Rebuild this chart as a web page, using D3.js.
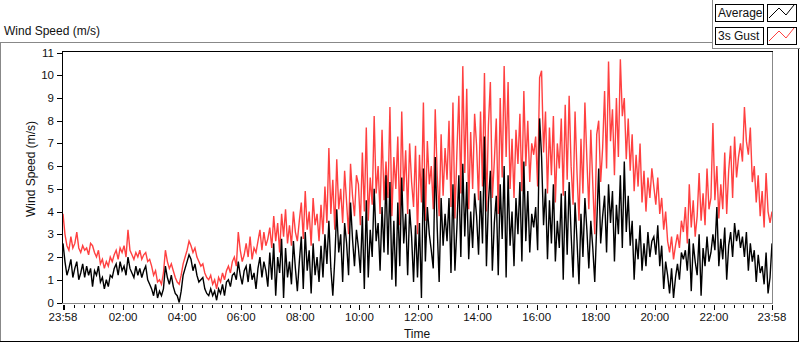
<!DOCTYPE html>
<html>
<head>
<meta charset="utf-8">
<style>
    body { margin: 0; background: #fff; }
    svg { display: block; }
    text { font-family: "Liberation Sans", Arial, sans-serif; fill: #111; }
</style>
</head>
<body>
<svg></svg>
<script src="https://d3js.org/d3.v7.min.js"></script>
<script>

    // one sample every 4 minutes, 23:58 -> 23:58 next day (15 per hour)
    let stepMinutes = 4;
    let seriesNames = ["Average", "3s Gust"];

    let gust = [
        3.9, 3.0, 2.5, 2.3, 2.9, 2.4, 2.6, 3.1, 2.4, 2.2, 2.5, 2.3, 2.4, 2.1, 2.6,
        2.5, 2.2, 2.0, 2.3, 1.7, 1.9, 1.5, 1.8, 1.6, 2.0, 1.8, 2.1, 2.3, 1.9, 2.4,
        2.2, 2.5, 2.0, 3.2, 2.3, 2.1, 1.9, 2.2, 2.0, 2.3, 1.9, 2.1, 2.2, 1.8, 1.9,
        1.6, 1.2, 1.4, 0.9, 1.0, 0.8, 1.3, 2.3, 1.8, 1.5, 1.7, 1.4, 1.1, 0.9, 0.8,
        1.2, 1.7, 2.0, 2.3, 2.7, 2.5, 2.2, 2.4, 2.0, 1.8, 1.6, 1.7, 1.3, 1.1, 1.0,
        1.2, 0.8, 1.0, 0.6, 1.1, 0.9, 1.3, 1.0, 1.4, 1.6, 1.3, 1.8, 2.0, 1.6, 3.1,
        2.3, 1.8, 2.1, 2.6, 2.0, 2.9, 1.9, 2.4, 2.2, 2.7, 3.2, 2.3, 3.1, 2.5, 2.8,
        3.3, 2.4, 3.8, 2.7, 3.5, 2.2, 3.9, 2.9, 4.1, 2.6, 3.4, 2.5, 4.0, 3.1, 2.7,
        3.6, 4.4, 2.8, 4.9, 3.2, 4.0, 2.5, 4.6, 3.4, 3.9, 2.7, 4.3, 3.0, 5.1, 3.5,
        6.8, 3.9, 5.4, 3.2, 6.3, 4.1, 5.0, 3.5, 5.8, 4.4, 3.0, 6.1, 4.7, 3.8, 5.6,
        5.2, 3.4, 6.6, 4.0, 7.7, 3.6, 5.5, 4.3, 8.2, 4.8, 6.0, 3.9, 7.6, 4.5, 6.2,
        4.6, 8.6, 3.8, 6.4, 5.0, 7.3, 3.4, 8.4, 4.9, 6.7, 3.9, 7.0, 5.3, 4.2, 6.9,
        3.0, 6.5, 4.4, 8.8, 3.6, 7.1, 5.2, 6.0, 4.1, 8.5, 5.6, 3.8, 7.4, 4.7, 6.8,
        5.4, 8.0, 4.2, 8.8, 3.7, 6.6, 9.1, 4.8, 10.4, 5.7, 9.4, 4.1, 7.5, 5.0, 8.3,
        6.9, 4.5, 8.4, 5.1, 10.1, 4.0, 7.8, 9.7, 4.6, 6.2, 8.1, 3.9, 9.0, 5.5, 10.4,
        6.4, 9.7, 5.0, 7.2, 4.6, 7.6, 6.1, 8.3, 4.9, 9.3, 6.0, 8.0, 5.3, 7.0, 6.5,
        7.3, 5.1, 9.9, 10.2, 6.6, 8.4, 4.8, 7.7, 5.6, 8.2, 4.4, 7.0, 5.9, 8.1, 4.7,
        8.7, 5.4, 9.1, 6.0, 4.3, 8.4, 5.7, 3.6, 7.2, 4.8, 8.8, 6.3, 4.1, 7.6, 5.2,
        3.0, 7.4, 8.0, 5.3, 6.8, 9.3, 5.9, 10.6, 7.1, 8.5, 5.6, 9.0, 6.4, 10.7, 8.2,
        9.0, 6.3, 8.1, 5.8, 7.4, 4.9, 6.5, 5.1, 7.0, 4.4, 5.8, 4.0, 5.5, 4.6, 5.9,
        5.1, 4.3, 5.5, 3.9, 4.6, 3.2, 4.0, 2.7, 2.2, 2.9, 1.9, 2.5, 3.0, 2.4, 3.6,
        3.1, 4.2, 2.6, 5.2, 3.3, 4.5, 2.9, 3.8, 5.7, 3.6, 4.8, 3.4, 5.9, 4.1, 4.6,
        7.9, 4.5, 6.0, 3.7, 5.2, 4.1, 6.6, 3.9, 5.8, 6.9, 4.6, 7.3, 5.5, 6.4, 7.0,
        6.2, 8.6, 7.1, 6.5, 7.7, 5.3, 6.0, 4.4, 5.6, 3.8, 4.9, 3.3, 5.7, 4.0, 3.5, 4.0
    ];

    let average = [
        2.6, 1.8, 1.2, 1.5, 1.9, 1.1, 1.5, 1.8, 1.0, 1.3, 1.7, 1.1, 1.6, 1.2, 1.5,
        0.7, 1.4, 1.2, 1.6, 0.9, 1.1, 0.6, 1.0, 0.7, 1.2, 1.1, 1.5, 1.7, 1.2, 1.8,
        1.4, 1.6, 1.2, 2.0, 1.5, 1.3, 1.1, 1.6, 1.2, 1.5, 1.1, 1.4, 1.6, 1.0, 0.8,
        0.6, 0.3, 0.8, 0.2, 0.5, 0.3, 0.6, 1.6, 1.1, 0.8, 1.2, 0.7, 0.4, 0.3, 0.0,
        0.5, 1.2, 1.5, 1.8, 2.1, 1.9, 1.4, 1.7, 1.2, 0.9, 1.0, 1.1, 0.6, 0.4, 0.3,
        0.6, 0.3, 0.5, 0.1, 0.6, 0.4, 0.8, 0.3, 0.9, 1.0, 0.7, 1.2, 1.3, 1.0, 1.8,
        1.2, 0.8, 1.4, 1.6, 0.9, 1.7, 1.0, 1.3, 0.6, 1.5, 2.0, 1.1, 1.8, 1.4, 0.7,
        2.2, 1.0, 2.6, 0.3, 2.0, 1.3, 2.8, 0.2, 2.4, 1.1, 1.8, 0.8, 2.7, 1.5, 0.5,
        1.8, 2.9, 0.6, 3.1, 1.4, 2.3, 0.4, 2.6, 1.2, 2.0, 0.9, 2.5, 1.1, 3.0, 1.7,
        3.6, 1.5, 0.3, 1.9, 4.1, 2.2, 3.0, 0.9, 3.5, 2.6, 1.2, 4.4, 2.8, 1.6, 3.2,
        2.4, 1.3, 3.8, 0.6, 4.5, 1.1, 3.2, 2.0, 5.0, 2.7, 3.5, 1.4, 4.2, 2.2, 5.6,
        2.1, 5.3, 1.0, 3.6, 0.7, 4.4, 1.6, 5.5, 2.6, 3.9, 1.2, 4.1, 2.9, 0.9, 3.4,
        1.1, 3.5, 0.2, 5.9, 1.8, 4.2, 3.0, 2.3, 1.5, 6.4, 3.3, 0.9, 4.6, 2.5, 3.9,
        2.7, 4.6, 1.3, 5.2, 1.4, 3.3, 5.6, 2.0, 6.1, 2.9, 5.3, 1.9, 4.0, 2.4, 4.8,
        3.8, 2.1, 4.9, 2.6, 7.3, 1.6, 4.4, 5.8, 1.4, 3.5, 4.7, 1.2, 5.2, 2.8, 6.0,
        1.1, 5.6, 2.5, 4.0, 1.6, 4.6, 3.0, 5.3, 1.8, 6.2, 2.7, 4.9, 2.2, 3.9, 3.3,
        4.2, 2.3, 8.1, 6.4, 3.4, 5.0, 1.9, 4.5, 2.6, 5.2, 1.8, 3.6, 2.4, 4.8, 1.0,
        4.9, 2.1, 5.3, 3.0, 1.1, 4.4, 2.7, 0.8, 3.9, 2.0, 4.6, 3.2, 1.5, 3.6, 2.4,
        0.9, 3.4, 5.9, 2.6, 3.8, 4.7, 2.2, 5.2, 3.5, 4.9, 1.8, 4.3, 3.0, 5.6, 2.4,
        6.2, 3.1, 4.7, 2.5, 3.6, 1.0, 2.8, 1.9, 3.4, 1.4, 2.6, 1.6, 3.1, 2.0, 2.7,
        2.9, 2.1, 3.4, 1.6, 2.5, 0.6, 1.8, 1.2, 0.4, 1.5, 0.2, 1.1, 1.7, 1.0, 2.2,
        1.9, 2.3, 1.4, 2.8, 0.5, 2.6, 1.8, 1.2, 3.0, 0.3, 2.4, 1.6, 2.9, 1.8, 2.2,
        3.0, 2.3, 4.2, 1.6, 2.8, 1.9, 3.3, 1.0, 2.5, 3.1, 2.0, 3.5, 2.7, 3.2, 2.4,
        2.9, 2.0, 3.1, 1.4, 2.6, 1.8, 2.3, 0.9, 2.1, 1.3, 1.6, 0.8, 2.2, 0.4, 1.1, 2.6
    ];

    let yTicks = [0, 1, 2, 3, 4, 5, 6, 7, 8, 9, 10, 11];
    let xTickLabels = ["23:58", "02:00", "04:00", "06:00", "08:00", "10:00",
                       "12:00", "14:00", "16:00", "18:00", "20:00", "22:00", "23:58"];

    let width = 800,
        height = 342;

    let startTime = new Date(2020, 0, 1, 23, 58),
        endTime = new Date(2020, 0, 2, 23, 58);

    let svg = d3.select("svg")
        .attr("width", width)
        .attr("height", height);

    let x = d3.scaleTime().domain([startTime, endTime]).range([63, 772]),
        y = d3.scaleLinear().domain([0, 11]).range([302.5, 52.5]);

    function timeAt(i) {
        return new Date(startTime.getTime() + i * stepMinutes * 60000);
    }

    // outer frame (LabVIEW style)
    let frame = svg.append("g").attr("shape-rendering", "crispEdges");
    frame.append("line").attr("x1", 0).attr("x2", 712).attr("y1", 42.5).attr("y2", 42.5).attr("stroke", "#888");
    frame.append("line").attr("x1", 0.5).attr("x2", 0.5).attr("y1", 42).attr("y2", 342).attr("stroke", "#888");
    frame.append("line").attr("x1", 798.5).attr("x2", 798.5).attr("y1", 48).attr("y2", 342).attr("stroke", "#000");
    frame.append("line").attr("x1", 0).attr("x2", 799).attr("y1", 341.5).attr("y2", 341.5).attr("stroke", "#000");

    svg.append("text")
        .attr("x", 4).attr("y", 35)
        .style("font-size", "12px")
        .text("Wind Speed (m/s)");

    // legend panel
    frame.append("line").attr("x1", 712.5).attr("x2", 712.5).attr("y1", 0).attr("y2", 48).attr("stroke", "#888");
    frame.append("line").attr("x1", 712).attr("x2", 800).attr("y1", 48.5).attr("y2", 48.5).attr("stroke", "#888");

    let legendColors = ["#000", "#ff4040"];
    seriesNames.forEach(function (name, i) {
        let top = 4 + i * 23;
        let lg = svg.append("g");
        lg.append("rect").attr("x", 715.5).attr("y", top + 0.5).attr("width", 48).attr("height", 17)
            .attr("fill", "#fff").attr("stroke", "#000").attr("shape-rendering", "crispEdges");
        lg.append("text").attr("x", 718).attr("y", top + 13).style("font-size", "12px").text(name);
        lg.append("rect").attr("x", 767.5).attr("y", top + 0.5).attr("width", 29).attr("height", 17)
            .attr("fill", "#fff").attr("stroke", "#000").attr("shape-rendering", "crispEdges");
        lg.append("path")
            .attr("d", "M769," + (top + 14) + "L779," + (top + 4) + "L786," + (top + 11) + "L794," + (top + 1))
            .attr("fill", "none").attr("stroke", legendColors[i]).attr("stroke-width", 1);
    });

    // plot area
    svg.append("defs").append("clipPath").attr("id", "plotClip")
        .append("rect").attr("x", 63).attr("y", 52).attr("width", 709).attr("height", 251);

    let windLine = d3.line()
        .x(function (d, i) { return x(timeAt(i)); })
        .y(function (d) { return y(d); });

    let plotG = svg.append("g").attr("clip-path", "url(#plotClip)");

    plotG.append("path")
        .datum(gust)
        .attr("d", windLine)
        .attr("fill", "none")
        .attr("stroke", "#ff4040")
        .attr("stroke-width", 1.4)
        .attr("stroke-linejoin", "miter");

    plotG.append("path")
        .datum(average)
        .attr("d", windLine)
        .attr("fill", "none")
        .attr("stroke", "#000")
        .attr("stroke-width", 1.4)
        .attr("stroke-linejoin", "miter");

    // plot border: black top/left, grey bottom/right
    frame.append("line").attr("x1", 62).attr("x2", 773).attr("y1", 51.5).attr("y2", 51.5).attr("stroke", "#000");
    frame.append("line").attr("x1", 62.5).attr("x2", 62.5).attr("y1", 51).attr("y2", 303).attr("stroke", "#000");
    frame.append("line").attr("x1", 772.5).attr("x2", 772.5).attr("y1", 52).attr("y2", 304).attr("stroke", "#888");
    frame.append("line").attr("x1", 62).attr("x2", 773).attr("y1", 303.5).attr("y2", 303.5).attr("stroke", "#888");

    // y axis
    let yAxisG = svg.append("g").attr("shape-rendering", "crispEdges");
    yAxisG.selectAll(".ytick").data(yTicks).enter().append("line")
        .attr("x1", 57).attr("x2", 62)
        .attr("y1", function (d) { return Math.round(y(d)) + 0.5; })
        .attr("y2", function (d) { return Math.round(y(d)) + 0.5; })
        .attr("stroke", "#000");
    svg.selectAll(".ylabel").data(yTicks).enter().append("text")
        .attr("x", 54)
        .attr("y", function (d) { return y(d) + 4; })
        .attr("text-anchor", "end")
        .style("font-size", "11.5px")
        .text(function (d) { return d; });

    svg.append("text")
        .attr("transform", "translate(35,169) rotate(-90)")
        .attr("text-anchor", "middle")
        .style("font-size", "12px")
        .text("Wind Speed (m/s)");

    // x axis: majors every 2h plus both ends, minors every 20 min
    let majorTimes = [startTime].concat(d3.range(1, 12).map(function (k) {
        return new Date(2020, 0, 2, k * 2, 0);
    })).concat([endTime]);
    let minorTimes = d3.range(0, 72).map(function (k) {
        return new Date(2020, 0, 2, 0, k * 20);
    }).filter(function (t) { return t.getMinutes() !== 0 || t.getHours() % 2 !== 0; });

    let xAxisG = svg.append("g").attr("shape-rendering", "crispEdges");
    xAxisG.selectAll(".minor").data(minorTimes).enter().append("line")
        .attr("x1", function (d) { return Math.round(x(d)) + 0.5; })
        .attr("x2", function (d) { return Math.round(x(d)) + 0.5; })
        .attr("y1", 305).attr("y2", 308)
        .attr("stroke", "#000");
    xAxisG.selectAll(".major").data(majorTimes).enter().append("line")
        .attr("x1", function (d) { return Math.round(x(d)) + 0.5; })
        .attr("x2", function (d) { return Math.round(x(d)) + 0.5; })
        .attr("y1", 305).attr("y2", 310)
        .attr("stroke", "#000")
        .attr("stroke-width", function (d, i) { return i === 0 ? 2 : 1; });
    svg.selectAll(".xlabel").data(majorTimes).enter().append("text")
        .attr("x", function (d) { return x(d); })
        .attr("y", 321)
        .attr("text-anchor", "middle")
        .style("font-size", "11.5px")
        .text(function (d, i) { return xTickLabels[i]; });

    svg.append("text")
        .attr("x", 417).attr("y", 338)
        .attr("text-anchor", "middle")
        .style("font-size", "12px")
        .text("Time");

</script>
</body>
</html>
